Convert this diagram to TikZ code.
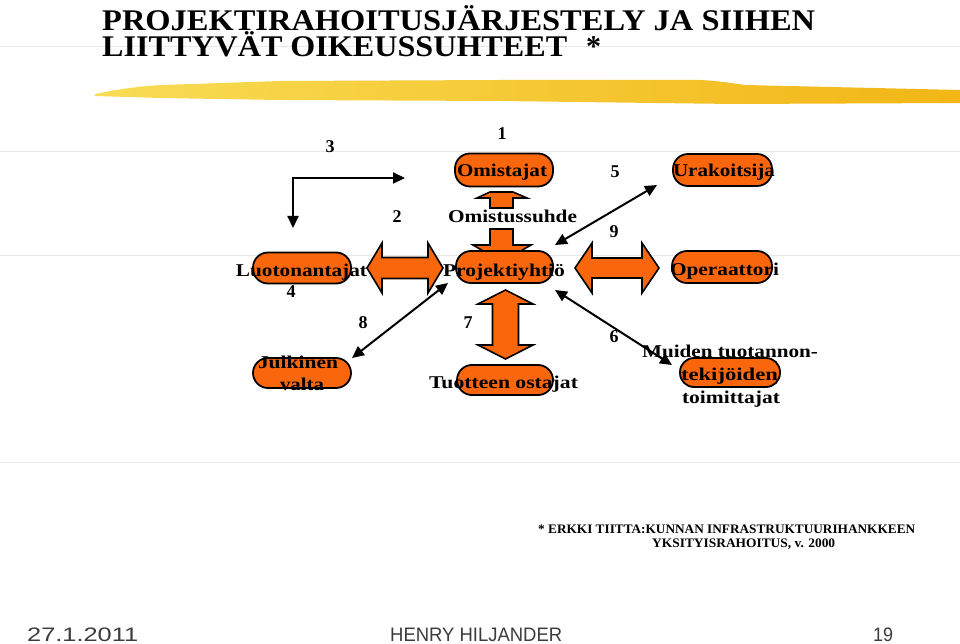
\documentclass[tikz,border=0pt]{standalone}
\usepackage{fontspec}
\setmainfont{Liberation Serif}
\newfontfamily\footfont{Liberation Sans}
\usetikzlibrary{arrows.meta}
\definecolor{pillorange}{RGB}{250,102,12}
\definecolor{brushA}{RGB}{248,220,84}
\definecolor{brushB}{RGB}{242,182,22}
\definecolor{rulegray}{RGB}{232,232,232}
\definecolor{footgray}{RGB}{60,60,60}
\newcommand\fitw[2]{\resizebox{#1pt}{\height}{#2}}
\newcommand\dblarrow[7]{%
\begin{scope}[shift={(#1,#2)}, rotate=#7]
\draw[blockarrow] (-#3,0) -- (-#3+#4,-#5) -- (-#3+#4,-#6) -- (#3-#4,-#6) -- (#3-#4,-#5) -- (#3,0) -- (#3-#4,#5) -- (#3-#4,#6) -- (-#3+#4,#6) -- (-#3+#4,#5) -- cycle;
\end{scope}}
\tikzset{
  pill/.style={draw=black, line width=1.8pt, fill=pillorange, rounded corners=15pt, inner sep=0pt},
  lbl/.style={anchor=base, inner sep=0pt, font=\fontsize{18}{18}\selectfont\bfseries},
  num/.style={anchor=base, inner sep=0pt, font=\fontsize{18}{18}\selectfont\bfseries},
  blockarrow/.style={draw=black, line width=1.6pt, fill=pillorange, line join=miter},
  link/.style={line width=2pt, {Triangle[length=12pt,width=11pt]}-{Triangle[length=12pt,width=11pt]}},
  rule/.style={rulegray, line width=1pt},
  foot/.style={anchor=base west, inner sep=0pt, text=footgray, font=\footfont\fontsize{19.5}{19.5}\selectfont},
  note/.style={anchor=base west, inner sep=0pt, font=\fontsize{13}{13}\selectfont\bfseries},
  ttl/.style={anchor=base west, inner sep=0pt, font=\fontsize{30}{30}\selectfont\bfseries}
}
\begin{document}
\begin{tikzpicture}[x=1pt,y=-1pt]
\useasboundingbox (0,0) rectangle (960,644);
\fill[white] (0,0) rectangle (960,644);
% faint rules
\draw[rule] (0,47) -- (960,47);
\draw[rule] (0,152) -- (960,152);
\draw[rule] (0,255) -- (960,255);
\draw[rule] (0,462) -- (960,462);
% brush stroke
\shade[left color=brushA, right color=brushB] (95,94) .. controls (120,89) and (140,86) .. (163,85) -- (280,81) -- (500,80) -- (700,80) .. controls (720,81) and (730,83) .. (745,85) -- (960,90) -- (960,103) -- (733,104) -- (500,101) -- (280,100) -- (160,98) -- (95,96) -- cycle;
% title
\node[ttl] (t1) at (102,31) {\fitw{713}{PROJEKTIRAHOITUSJÄRJESTELY JA SIIHEN}};
\node[ttl] (t2) at (102,57) {\fitw{465}{LIITTYVÄT OIKEUSSUHTEET}};
\node[ttl] (t3) at (586,57) {*};
% block arrows
\dblarrow{405}{268}{38}{15}{25}{10.5}{0}
\dblarrow{617}{268}{42}{17}{25}{10}{0}
\dblarrow{505.5}{324.5}{34.5}{14}{27.5}{13}{90}
\draw[blockarrow] (490,192) -- (513,192) -- (527,198) -- (513,198) -- (513,208) -- (490,208) -- (490,198) -- (477,198) -- cycle;
\draw[blockarrow] (490,229) -- (513,229) -- (513,245) -- (531,245) -- (502,262) -- (473,245) -- (490,245) -- cycle;
% pills
\node[pill, minimum width=98pt, minimum height=33pt] (omist) at (504,170) {};
\node[pill, minimum width=98pt, minimum height=31pt] (luoto) at (302,268) {};
\node[pill, minimum width=97pt, minimum height=32pt] (proj) at (504.5,267) {};
\node[pill, minimum width=99pt, minimum height=32pt] (urak) at (722.5,170) {};
\node[pill, minimum width=100pt, minimum height=32pt] (oper) at (722,267) {};
\node[pill, minimum width=100pt, minimum height=29pt, rounded corners=14pt] (tekij) at (730,372.5) {};
\node[pill, minimum width=98pt, minimum height=30pt] (julk) at (302,373) {};
\node[pill, minimum width=96pt, minimum height=30pt] (tuot) at (505,380) {};
% labels
\node[lbl] (lomist) at (502,177) {\fitw{90}{Omistajat}};
\node[lbl] (lluoto) at (301.5,276) {\fitw{131}{Luotonantajat}};
\node[lbl] (lproj) at (504,276) {\fitw{122}{Projektiyhtiö}};
\node[lbl] (lurak) at (724,177) {\fitw{102}{Urakoitsija}};
\node[lbl] (loper) at (724.5,275) {\fitw{109}{Operaattori}};
\node[lbl] (lomsuh) at (512.5,223) {\fitw{129}{Omistussuhde}};
\node[lbl] (lmuid) at (730,357) {\fitw{176}{Muiden tuotannon-}};
\node[lbl] (ltekij) at (729.5,380) {\fitw{97}{tekijöiden}};
\node[lbl] (ltoim) at (731,403) {\fitw{98}{toimittajat}};
\node[lbl] (ljulk) at (298,368) {\fitw{80}{Julkinen}};
\node[lbl] (lvalta) at (302,390) {\fitw{44}{valta}};
\node[lbl] (ltuot) at (503.5,388) {\fitw{149}{Tuotteen ostajat}};
% numbers
\node[num] (n1) at (502,140) {1};
\node[num] (n3) at (330,153) {3};
\node[num] (n5) at (615,178) {5};
\node[num] (n2) at (397,223) {2};
\node[num] (n9) at (614,237) {9};
\node[num] (n4) at (291,297) {4};
\node[num] (n8) at (363,328) {8};
\node[num] (n7) at (468,328) {7};
\node[num] (n6) at (614,342) {6};
% thin connectors
\coordinate (c3a) at (405,178);
\coordinate (c3b) at (293,178);
\coordinate (c3c) at (293,228);
\draw[link] (c3a) -- (c3b) -- (c3c);
\coordinate (c5a) at (555,245);
\coordinate (c5b) at (657,185);
\draw[link] (c5a) -- (c5b);
\coordinate (c8a) at (352,358);
\coordinate (c8b) at (448,283);
\draw[link] (c8a) -- (c8b);
\coordinate (c6a) at (555,290);
\coordinate (c6b) at (672,365);
\draw[link] (c6a) -- (c6b);
% footnote
\node[note] (fn1) at (538,533) {\fitw{377}{* ERKKI TIITTA:KUNNAN INFRASTRUKTUURIHANKKEEN}};
\node[note] (fn2) at (652,547) {\fitw{183}{YKSITYISRAHOITUS, v. 2000}};
% footer
\node[foot] (fdate) at (27,641) {\fitw{111}{27.1.2011}};
\node[foot] (fname) at (390,641) {\fitw{172}{HENRY HILJANDER}};
\node[foot] (fpage) at (873,641) {\fitw{20}{19}};
\end{tikzpicture}
\end{document}
